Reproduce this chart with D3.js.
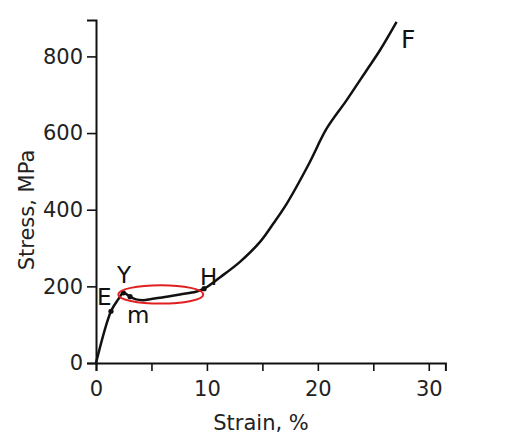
<!DOCTYPE html>
<html><head><meta charset="utf-8">
<script src="https://cdn.jsdelivr.net/npm/d3@7"></script>
<style>body{margin:0;background:#fff}svg{display:block}</style>
</head><body>
<svg id="c" width="511" height="441"></svg>
<script>
const strain = [0,1.35,2.0,2.46,3.07,3.6,4.27,5.0,5.77,7.57,9.0,9.75,11.2,12.98,14.79,15.99,17.2,19.2,20.8,22.6,24.4,25.6,27.1];
const stress = [0,135,166,183,173,166,164,167,170,179,186,194,224,264,316,364,416,520,612,686,764,816,890];
const xTicks = [0,5,10,15,20,25,30];
const yTicks = [0,200,400,600,800];
const markStrain = [1.35,2.46,3.07,9.75];
const markStress = [135,183,173,194];
const labelText = ["E","Y","m","H","F"];
const labelStrain = [0.1,1.9,2.8,9.38,27.5];
const labelStress = [151,209,104,203,823];
const labelSize = [23,23,23,23,25];
const ellipseC = [5.84,179], ellipseR = [3.83,24];

const svg = d3.select("#c");
const font = "DejaVu Sans";
const x = d3.scaleLinear().domain([0,31.5]).range([96,445.4]);
const y = d3.scaleLinear().domain([0,895]).range([363,20]);

const gx = svg.append("g").attr("transform","translate(0,363)")
  .call(d3.axisBottom(x).tickValues(xTicks).tickSize(8).tickPadding(10)
    .tickFormat(d => d % 10 === 0 ? d : ""));
const gy = svg.append("g").attr("transform","translate(96,0)")
  .call(d3.axisLeft(y).tickValues(yTicks).tickSize(9).tickPadding(4));
[gx,gy].forEach(g=>{
  g.select(".domain").attr("stroke","#111").attr("stroke-width",2);
  g.selectAll(".tick line").attr("stroke","#111").attr("stroke-width",1.6);
  g.selectAll("text").attr("font-family",font).attr("font-size",21).attr("fill","#222");
});

svg.append("text").attr("x",261).attr("y",430).attr("text-anchor","middle")
  .attr("font-family",font).attr("font-size",21).attr("fill","#222").text("Strain, %");
svg.append("text").attr("transform","translate(34,210) rotate(-90)").attr("text-anchor","middle")
  .attr("font-family",font).attr("font-size",21).attr("fill","#222").text("Stress, MPa");

const pts = strain.map((s,i)=>[s,stress[i]]);
svg.append("path").datum(pts)
  .attr("d", d3.line().x(d=>x(d[0])).y(d=>y(d[1])).curve(d3.curveCatmullRom.alpha(0.5)))
  .attr("fill","none").attr("stroke","#111").attr("stroke-width",2.5).attr("stroke-linejoin","round");

svg.selectAll("circle.m").data(markStrain).join("circle")
  .attr("cx",d=>x(d)).attr("cy",(d,i)=>y(markStress[i])).attr("r",2.6).attr("fill","#111");

svg.append("ellipse")
  .attr("cx",x(ellipseC[0])).attr("cy",y(ellipseC[1]))
  .attr("rx",x(ellipseC[0]+ellipseR[0])-x(ellipseC[0]))
  .attr("ry",y(ellipseC[1]-ellipseR[1])-y(ellipseC[1]))
  .attr("fill","none").attr("stroke","#e02020").attr("stroke-width",2);

svg.selectAll("text.lab").data(labelText).join("text")
  .attr("x",(d,i)=>x(labelStrain[i])).attr("y",(d,i)=>y(labelStress[i]))
  .attr("font-family",font).attr("font-size",(d,i)=>labelSize[i]).attr("fill","#111").text(d=>d);
</script>
</body></html>
